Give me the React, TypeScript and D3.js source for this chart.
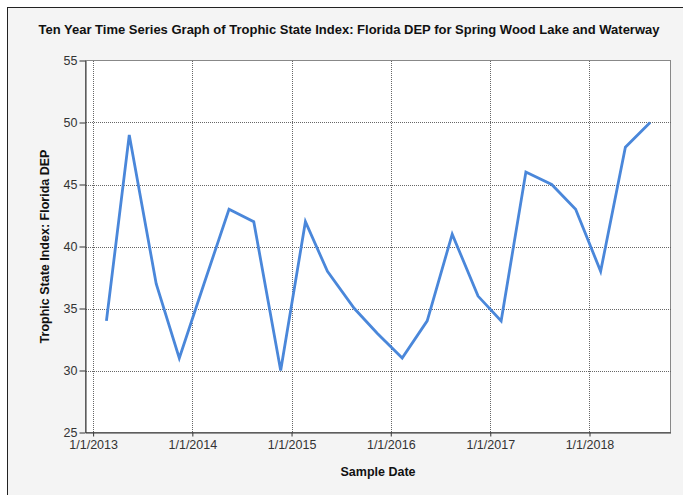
import { useEffect, useRef } from "react";
import * as d3 from "d3";

const sampleDates = [
  "2013-02-19", "2013-05-14", "2013-08-21", "2013-11-14",
  "2014-02-13", "2014-05-16", "2014-08-15", "2014-11-22",
  "2015-02-21", "2015-05-13", "2015-08-20", "2015-11-12",
  "2016-02-12", "2016-05-14", "2016-08-14", "2016-11-17",
  "2017-02-10", "2017-05-12", "2017-08-15", "2017-11-11",
  "2018-02-11", "2018-05-13", "2018-08-12",
];
const tsiValues = [
  34, 49, 37, 31,
  37, 43, 42, 30,
  42, 38, 35, 33,
  31, 34, 41, 36,
  34, 46, 45, 43,
  38, 48, 50,
];
const yTicks = [25, 30, 35, 40, 45, 50, 55];
const xTickDates = ["2013-01-01", "2014-01-01", "2015-01-01", "2016-01-01", "2017-01-01", "2018-01-01"];
const xDomain = ["2012-12-04", "2018-10-26"];

const W = 683;
const H = 495;
const FONT = "'Liberation Sans', Arial, sans-serif";

export default function App() {
  const ref = useRef<SVGSVGElement | null>(null);

  useEffect(() => {
    if (!ref.current) return;
    const parse = d3.utcParse("%Y-%m-%d");
    const data = sampleDates.map((d, i) => ({ date: parse(d)!, value: tsiValues[i] }));

    const left = 85.5, right = 670.5, top = 60.5, bottom = 432.5;

    const x = d3.scaleUtc().domain(xDomain.map((d) => parse(d)!)).range([left, right]);
    const y = d3.scaleLinear().domain([25, 55]).range([bottom, top]);

    const svg = d3.select(ref.current);
    svg.selectAll("*").remove();

    // outer panel
    svg.append("rect").attr("width", W).attr("height", H).attr("fill", "#ffffff");
    svg.append("rect")
      .attr("x", 7.5).attr("y", 7.5).attr("width", W).attr("height", H)
      .attr("fill", "#f4f4f4").attr("stroke", "#222").attr("stroke-width", 1);

    svg.append("text")
      .attr("x", 349).attr("y", 34)
      .attr("text-anchor", "middle")
      .style("font", `bold 13px ${FONT}`)
      .attr("fill", "#111")
      .text("Ten Year Time Series Graph of Trophic State Index: Florida DEP for Spring Wood Lake and Waterway");

    // plot area
    svg.append("rect")
      .attr("x", left).attr("y", top).attr("width", right - left).attr("height", bottom - top)
      .attr("fill", "#fff").attr("stroke", "#888");

    const grid = svg.append("g")
      .attr("stroke", "#666").attr("stroke-dasharray", "1,1").attr("stroke-width", 1)
      .attr("shape-rendering", "crispEdges");
    grid.selectAll("line.h")
      .data(yTicks.filter((t) => t > 25 && t < 55))
      .join("line")
      .attr("x1", left).attr("x2", right)
      .attr("y1", (d) => Math.round(y(d)) + 0.5).attr("y2", (d) => Math.round(y(d)) + 0.5);
    grid.selectAll("line.v")
      .data(xTickDates.map((d) => parse(d)!))
      .join("line")
      .attr("x1", (d) => Math.round(x(d)) + 0.5).attr("x2", (d) => Math.round(x(d)) + 0.5)
      .attr("y1", top).attr("y2", bottom);

    // y axis
    const yAxis = svg.append("g").attr("transform", `translate(${left},0)`)
      .call(d3.axisLeft(y).tickValues(yTicks).tickSize(6).tickPadding(2).tickSizeOuter(0));
    yAxis.select(".domain").attr("stroke", "#333");
    yAxis.selectAll(".tick line").attr("stroke", "#333");
    yAxis.selectAll("text").style("font", `12.5px ${FONT}`).attr("fill", "#333");

    // x axis
    const xAxis = svg.append("g").attr("transform", `translate(0,${bottom})`)
      .call(
        d3.axisBottom(x)
          .tickValues(xTickDates.map((d) => parse(d)!))
          .tickFormat((d) => d3.utcFormat("%-m/%-d/%Y")(d as Date))
          .tickSize(4).tickPadding(4).tickSizeOuter(0)
      );
    xAxis.select(".domain").attr("stroke", "#333");
    xAxis.selectAll(".tick line").attr("stroke", "#333");
    xAxis.selectAll("text").style("font", `12.5px ${FONT}`).attr("fill", "#333");

    // line
    const line = d3.line<{ date: Date; value: number }>()
      .x((d) => x(d.date))
      .y((d) => y(d.value));
    svg.append("path")
      .datum(data)
      .attr("d", line)
      .attr("fill", "none")
      .attr("stroke", "#4a87da")
      .attr("stroke-width", 2.8)
      .attr("stroke-linejoin", "miter");

    // axis titles
    svg.append("text")
      .attr("x", (left + right) / 2).attr("y", 476)
      .attr("text-anchor", "middle")
      .style("font", `bold 12.5px ${FONT}`)
      .attr("fill", "#111")
      .text("Sample Date");
    svg.append("text")
      .attr("transform", `translate(49,${(top + bottom) / 2}) rotate(-90)`)
      .attr("text-anchor", "middle")
      .style("font", `bold 12.5px ${FONT}`)
      .attr("fill", "#111")
      .text("Trophic State Index: Florida DEP");
  }, []);

  return (
    <svg
      ref={ref}
      width={W}
      height={H}
      style={{ position: "absolute", left: 0, top: 0, display: "block" }}
    />
  );
}
